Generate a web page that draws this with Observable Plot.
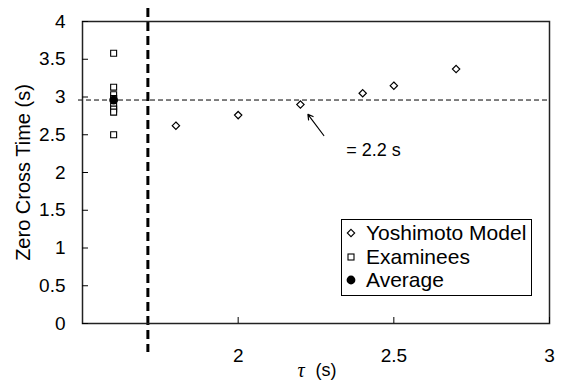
<!DOCTYPE html>
<html><head><meta charset="utf-8">
<script src="https://cdn.jsdelivr.net/npm/d3@7"></script>
<script src="https://cdn.jsdelivr.net/npm/@observablehq/plot@0.6"></script>
<style>
body{margin:0;background:#fff;}
#wrap{position:relative;width:563px;height:381px;font-family:"Liberation Sans",Arial,sans-serif;color:#000;}
#legend{position:absolute;left:341px;top:219px;width:189px;height:74px;border:1px solid #000;background:#fff;font-size:21px;padding-top:1px;}
#legend .row{height:23.7px;line-height:23.7px;display:flex;align-items:center;}
#legend svg{margin-left:4px;margin-right:10px;}
</style></head>
<body>
<div id="wrap"></div>
<script>
// ---- data ----
const modelTau = [1.8, 2.0, 2.2, 2.4, 2.5, 2.7];
const modelZct = [2.62, 2.76, 2.90, 3.05, 3.15, 3.37];
const examineeTau = 1.6;
const examineeZct = [3.58, 3.13, 3.03, 2.98, 2.88, 2.84, 2.80, 2.50];
const averageZct = [2.96];
const thresholdTau = [1.71];
const xTicks = [2, 2.5, 3];
const yTicks = [0, 0.5, 1, 1.5, 2, 2.5, 3, 3.5, 4];
const arrowData = [{x1: 2.275, y1: 2.49, x2: 2.224, y2: 2.77}];
const noteData = [{x: 2.347, y: 2.29, text: "= 2.2 s"}];
const legendNames = ["Yoshimoto Model", "Examinees", "Average"];
const legendSymbols = ["diamond", "square", "circle"];

const model = modelTau.map((t, i) => ({tau: t, zct: modelZct[i]}));
const examinees = examineeZct.map(z => ({tau: examineeTau, zct: z}));
const average = averageZct.map(z => ({tau: examineeTau, zct: z}));

const font = "Liberation Sans, Arial, sans-serif";

const chart = Plot.plot({
  width: 563, height: 381,
  marginLeft: 82, marginRight: 14, marginTop: 21, marginBottom: 58,
  style: {fontFamily: font, color: "#000", background: "#fff"},
  x: {domain: [1.5, 3]},
  y: {domain: [0, 4]},
  marks: [
    Plot.ruleY(averageZct, {stroke: "#000", strokeWidth: 1, strokeDasharray: "5,3", insetLeft: -4}),
    Plot.ruleX(thresholdTau, {stroke: "#000", strokeWidth: 3, strokeDasharray: "9,5", insetTop: -13, insetBottom: -29}),
    Plot.frame({stroke: "#222", strokeWidth: 1.5}),
    Plot.axisY(yTicks, {tickSize: -6, tickPadding: 23, fontSize: 19, label: null, tickFormat: d => String(d)}),
    Plot.axisX(xTicks, {tickSize: -6, tickPadding: 31, fontSize: 19, label: null, tickFormat: d => String(d)}),
    Plot.text(["Zero Cross Time (s)"], {frameAnchor: "left", textAnchor: "middle", rotate: -90, lineAnchor: "top", dx: -67, fontSize: 20}),
    Plot.text(["τ"], {frameAnchor: "bottom", textAnchor: "middle", lineAnchor: "middle", dx: -15, dy: 47, fontSize: 20, fontFamily: "Liberation Serif, Times New Roman, serif", fontStyle: "italic"}),
    Plot.text(["(s)"], {frameAnchor: "bottom", textAnchor: "middle", lineAnchor: "middle", dx: 10, dy: 47, fontSize: 18}),
    Plot.dot(model, {x: "tau", y: "zct", symbol: "diamond2", r: 3.3, stroke: "#000", strokeWidth: 1.2, fill: "#fff"}),
    Plot.dot(examinees, {x: "tau", y: "zct", symbol: "square2", r: 3.8, stroke: "#000", strokeWidth: 1.1, fill: "#fff"}),
    Plot.dot(average, {x: "tau", y: "zct", symbol: "circle", r: 4.4, fill: "#000", stroke: "none"}),
    Plot.arrow(arrowData, {x1: "x1", y1: "y1", x2: "x2", y2: "y2", stroke: "#000", strokeWidth: 1.2, headLength: 7}),
    Plot.text(noteData, {x: "x", y: "y", text: "text", textAnchor: "start", fontSize: 18})
  ]
});

const wrap = document.getElementById("wrap");
wrap.appendChild(chart);

const legend = document.createElement("div");
legend.id = "legend";
legendNames.forEach((name, i) => {
  const row = document.createElement("div");
  row.className = "row";
  const s = legendSymbols[i];
  let shape;
  if (s === "diamond") shape = '<path d="M5,1.3L8.7,5L5,8.7L1.3,5Z" fill="#fff" stroke="#000" stroke-width="1.1"/>';
  else if (s === "square") shape = '<rect x="2" y="2" width="6" height="6" fill="#fff" stroke="#000" stroke-width="1.1"/>';
  else shape = '<circle cx="5" cy="5" r="4.4" fill="#000"/>';
  row.innerHTML = `<svg width="10" height="10" viewBox="0 0 10 10">${shape}</svg><span>${name}</span>`;
  legend.appendChild(row);
});
wrap.appendChild(legend);
</script>
</body></html>
